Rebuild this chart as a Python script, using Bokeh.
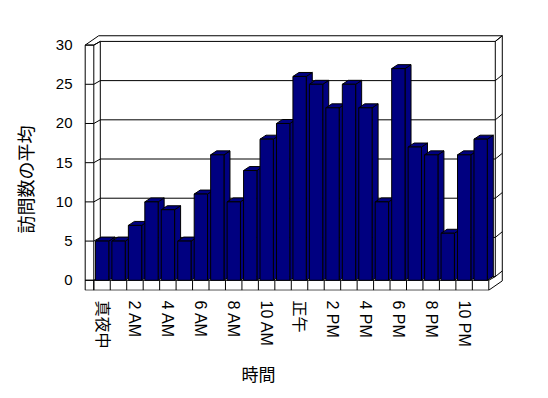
import math
from bokeh.plotting import figure
from bokeh.models import FixedTicker, Title, ColumnDataSource, Range1d
from bokeh.embed import file_html
from bokeh.resources import INLINE

# ---- data ----
hours = list(range(24))
visits = [5, 5, 7, 10, 9, 5, 11, 16, 10, 14, 18, 20,
          26, 25, 22, 25, 22, 10, 27, 17, 16, 6, 16, 18]
tick_positions = [0, 2, 4, 6, 8, 10, 12, 14, 16, 18, 20, 22]
tick_labels = ["真夜中", "2 AM", "4 AM", "6 AM", "8 AM", "10 AM",
               "正午", "2 PM", "4 PM", "6 PM", "8 PM", "10 PM"]
y_ticks = [0, 5, 10, 15, 20, 25, 30]
x_title = "時間"
y_title = "訪問数の平均"

# ---- layout / style ----
W, H = 548, 398
PX_X, PX_Y = 16.458, 7.9          # pixels per category / per value unit
L, R, T, B = 80, 510, 30, 292      # frame edges in px
X0PX, Y0PX = 93.3, 281.7           # px of the floor front-left corner
N = len(hours)
YMAX = y_ticks[-1]
x_start = -0.5 - (X0PX - L) / PX_X
x_end = -0.5 + (R - X0PX) / PX_X
y_start = -(B - Y0PX) / PX_Y
y_end = (Y0PX - T) / PX_Y

DX, DY = 6.5 / PX_X, 3.7 / PX_Y     # floor depth (front plane -> back wall)
TX, TY = 7.0 / PX_X, 5.7 / PX_Y     # back wall thickness
WL = 8.6 / PX_X                     # left wall thickness
FT = 10.0 / PX_Y                    # floor thickness
BL, BR = -0.40, 0.41                # bar front face offsets in category
BDX, BDY = 6.0 / PX_X, 4.0 / PX_Y   # bar depth

FONT = "Liberation Sans, Noto Sans CJK JP"
NAVY = "#000080"

p = figure(width=W, height=H, x_range=Range1d(x_start, x_end),
           y_range=Range1d(y_start, y_end), output_backend="svg",
           toolbar_location=None, min_border_left=L, min_border_right=W - R,
           min_border_top=T, min_border_bottom=H - B)
p.outline_line_color = None
p.grid.visible = False
p.background_fill_color = "white"
p.border_fill_color = "white"

# ---- walls and floor (frame lines) ----
xl_out = -0.5 - WL
xl_in = -0.5
xr = N - 0.5
segs = []
def seg(x1, y1, x2, y2):
    segs.append(([x1, x2], [y1, y2]))

seg(xl_out, -FT, xl_out, YMAX)
seg(xl_in, -FT, xl_in, YMAX)
seg(xl_out, YMAX, xl_in, YMAX)
seg(xl_out, YMAX, xl_out + DX + TX, YMAX + DY + TY)
seg(xl_in, YMAX, xl_in + DX, YMAX + DY)
seg(xl_in + DX, DY, xl_in + DX, YMAX + DY)
seg(xr + DX, DY, xr + DX, YMAX + DY)
seg(xl_out + DX + TX, YMAX + DY + TY, xr + DX + TX, YMAX + DY + TY)
seg(xr + DX, YMAX + DY, xr + DX + TX, YMAX + DY + TY)
seg(xr + DX + TX, -FT + DY + TY, xr + DX + TX, YMAX + DY + TY)
seg(xl_out, -FT, xr, -FT)
seg(xl_out, 0, xr, 0)
seg(xr, -FT, xr + DX + TX, -FT + DY + TY)
seg(xr, 0, xr + DX, DY)
for k in range(N + 1):
    seg(k - 0.5, -FT, k - 0.5, 0)
for v in y_ticks:
    seg(xl_out, v, xl_in, v)
    seg(xl_in, v, xl_in + DX, v + DY)
    seg(xl_in + DX, v + DY, xr + DX, v + DY)
    seg(xr + DX, v + DY, xr + DX + TX, v + DY + TY)

p.multi_line(xs=[s[0] for s in segs], ys=[s[1] for s in segs],
             line_color="black", line_width=1)

# ---- bars ----
side_xs, side_ys, top_xs, top_ys = [], [], [], []
for h, v in zip(hours, visits):
    l, r = h + BL, h + BR
    side_xs.append([r, r + BDX, r + BDX, r])
    side_ys.append([0, BDY, v + BDY, v])
    top_xs.append([l, r, r + BDX, l + BDX])
    top_ys.append([v, v, v + BDY, v + BDY])
p.patches(side_xs, side_ys, fill_color=NAVY, line_color="black", line_width=1)
p.patches(top_xs, top_ys, fill_color=NAVY, line_color="black", line_width=1)
src = ColumnDataSource(dict(left=[h + BL for h in hours],
                            right=[h + BR for h in hours],
                            top=visits, bottom=[0] * N))
p.quad(left="left", right="right", top="top", bottom="bottom", source=src,
       fill_color=NAVY, line_color="black", line_width=1)

# ---- axes ----
xa = p.xaxis[0]
xa.ticker = FixedTicker(ticks=tick_positions)
xa.major_label_overrides = {t: s for t, s in zip(tick_positions, tick_labels)}
xa.major_label_orientation = "vertical"
xa.major_label_standoff = 10
xa.major_tick_out = 0
xa.major_tick_in = 0
xa.axis_line_color = None
xa.major_tick_line_color = None
xa.minor_tick_line_color = None
xa.major_label_text_font = FONT
xa.major_label_text_font_size = "16px"
xa.major_label_text_color = "black"

ya = p.yaxis[0]
ya.ticker = FixedTicker(ticks=y_ticks)
ya.major_label_standoff = 8
ya.major_tick_out = 0
ya.major_tick_in = 0
ya.axis_line_color = None
ya.major_tick_line_color = None
ya.minor_tick_line_color = None
ya.major_label_text_font = FONT
ya.major_label_text_font_size = "15px"
ya.major_label_text_color = "black"

# ---- titles ----
p.add_layout(Title(text=y_title, align="left", offset=57, standoff=30,
                   vertical_align="middle", text_font=FONT,
                   text_font_size="18px", text_font_style="normal",
                   text_color="black"), "left")
p.add_layout(Title(text=x_title, align="left", offset=161, standoff=26,
                   vertical_align="middle", text_font=FONT,
                   text_font_size="17px", text_font_style="normal",
                   text_color="black"), "below")

open("out.html", "w").write(file_html(p, INLINE))
